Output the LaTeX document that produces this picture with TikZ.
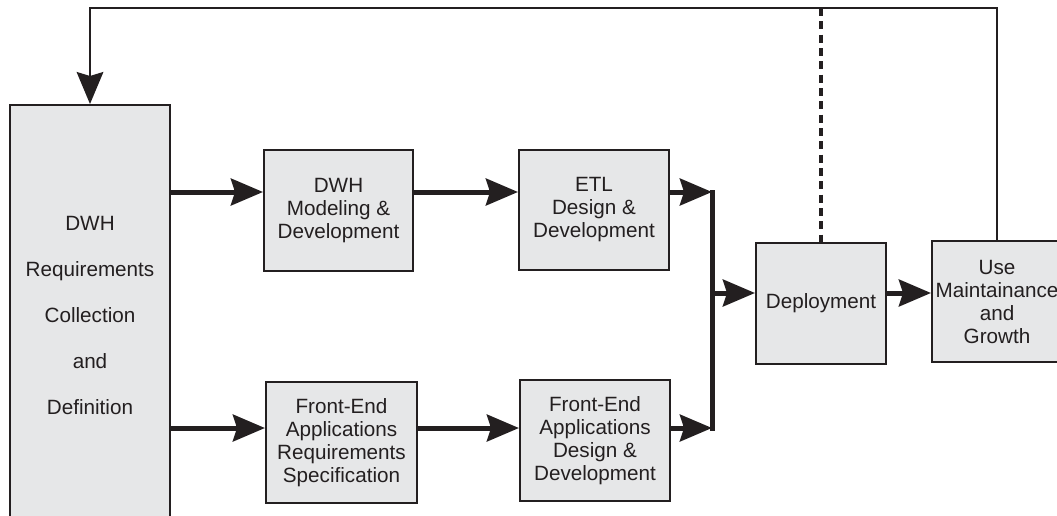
\documentclass[tikz,border=0pt]{standalone}
\usepackage{fontspec}
\setmainfont{Liberation Sans}
\usetikzlibrary{arrows.meta}
\definecolor{boxfill}{HTML}{E6E7E8}
\definecolor{ink}{HTML}{231F20}
\tikzset{
  box/.style={draw=ink, fill=boxfill, line width=1.5pt, inner sep=0pt, align=center,
    font=\fontsize{15.5}{17.25}\selectfont, text=ink},
  tip/.style={-{Stealth[length=24pt, width=20pt, inset=3pt]}},
  arr/.style={tip, draw=ink, line width=3.75pt},
  thinarr/.style={tip, draw=ink, line width=1.5pt},
  bus/.style={draw=ink, line width=3.75pt, line cap=rect},
  dashline/.style={draw=ink, line width=3.4pt, dash pattern=on 6pt off 4pt}
}
\begin{document}
\begin{tikzpicture}[x=0.75pt, y=-0.75pt]
\useasboundingbox (0,0) rectangle (1057,515);
% nodes
\node[box, minimum width=160*0.75pt, minimum height=420*0.75pt,
      font=\fontsize{15.5}{34.5}\selectfont] (big) at (90,315)
  {DWH\\Requirements\\Collection\\and\\Definition};
\node[box, minimum width=149*0.75pt, minimum height=121*0.75pt] (dwhm) at (338.5,210.5)
  {DWH\\Modeling \&\\Development};
\node[box, minimum width=150*0.75pt, minimum height=120*0.75pt] (etl) at (594,210)
  {ETL\\Design \&\\Development};
\node[box, minimum width=151*0.75pt, minimum height=121*0.75pt] (fereq) at (341.5,442.5)
  {Front-End\\Applications\\Requirements\\Specification};
\node[box, minimum width=150*0.75pt, minimum height=121*0.75pt] (fedes) at (595,440.5)
  {Front-End\\Applications\\Design \&\\Development};
\node[box, minimum width=130*0.75pt, minimum height=121*0.75pt] (dep) at (821,303.5)
  {Deployment};
\node[box, minimum width=130*0.75pt, minimum height=121*0.75pt] (use) at (997,301.5)
  {Use\\Maintainance\\and\\Growth};
% helper coordinates
\coordinate (rowt) at (0,192);
\coordinate (rowb) at (0,428);
\coordinate (rowm) at (0,293);
\coordinate (jt) at (712,192);
\coordinate (jb) at (712,428);
\coordinate (jm) at (712,293);
\coordinate (tl) at (90,8);
\coordinate (tr) at (997,8);
\coordinate (td) at (821,8);
% connectors
\draw[arr] (big.east |- rowt) -- (dwhm.west |- rowt);
\draw[arr] (dwhm.east |- rowt) -- (etl.west |- rowt);
\draw[arr] (etl.east |- rowt) -- (jt);
\draw[arr] (big.east |- rowb) -- (fereq.west |- rowb);
\draw[arr] (fereq.east |- rowb) -- (fedes.west |- rowb);
\draw[arr] (fedes.east |- rowb) -- (jb);
\draw[bus] (jt) -- (jb);
\draw[arr] (jm) -- (dep.west |- rowm);
\draw[arr] (dep.east |- rowm) -- (use.west |- rowm);
\draw[thinarr] (use.north) -- (tr) -- (tl) -- (big.north);
\draw[dashline] (td) -- (dep.north);
\end{tikzpicture}
\end{document}
